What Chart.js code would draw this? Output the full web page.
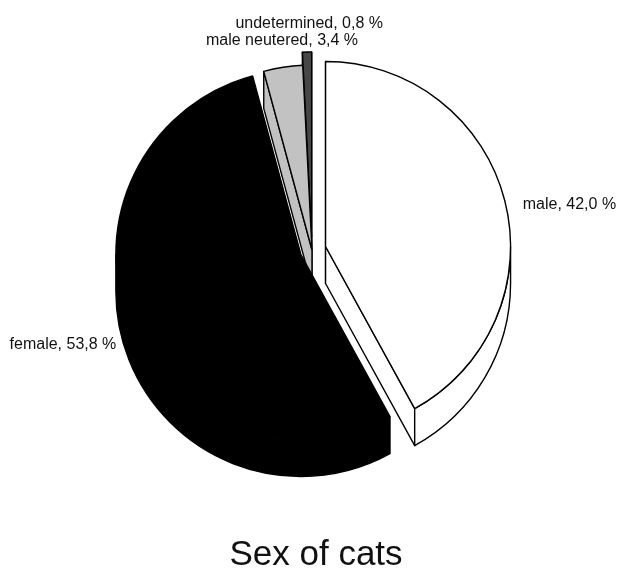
<!DOCTYPE html>
<html>
<head>
<meta charset="utf-8">
<title>Sex of cats</title>
<script src="https://cdn.jsdelivr.net/npm/chart.js@4.4.1/dist/chart.umd.min.js"></script>
<style>
  html, body { margin: 0; padding: 0; background: #ffffff; }
  #wrap { width: 618px; height: 568px; }
</style>
</head>
<body>
<div id="wrap"><canvas id="chart" width="618" height="568"></canvas></div>
<script>
// Share of each group, in percent, clockwise from 12 o'clock
const categories = ['male', 'female', 'male neutered', 'undetermined'];
const shares = [42.0, 53.8, 3.4, 0.8];
const chartTitle = 'Sex of cats';

// Styling
const sliceColors = ['#ffffff', '#000000', '#c2c2c2', '#464646'];
const explodeBy = [14, 12, 0, 13];   // how far each slice is pulled out
const DEPTH = 37;                    // thickness of the extruded pie
const RADIUS = 185;
const LINE = 1.4;
const FONT = '"Liberation Sans", Arial, Helvetica, sans-serif';

// Label anchor relative to the outer point at each slice's mid angle
const labelPlacement = [
  { dx: 18,  dy: 8.5, align: 'left'  },
  { dx: -13, dy: 25,  align: 'right' },
  { dx: 75,  dy: -22, align: 'right' },
  { dx: 76,  dy: -24, align: 'right' }
];

const fmt = v => v.toFixed(1).replace('.', ',') + ' %';

function sliceGeometry(chart) {
  const meta = chart.getDatasetMeta(0);
  return meta.data.map((arc, i) => {
    const p = arc.getProps(['x', 'y', 'startAngle', 'endAngle', 'outerRadius'], true);
    const mid = (p.startAngle + p.endAngle) / 2;
    const ex = explodeBy[i];
    return { arc, i, p, mid, ax: p.x + Math.cos(mid) * ex, ay: p.y + Math.sin(mid) * ex };
  });
}

// Side walls of one slice that face the viewer (extrusion goes straight down)
function drawSides(ctx, it) {
  const r = it.p.outerRadius, s = it.p.startAngle, e = it.p.endAngle;
  const ax = it.ax, ay = it.ay;
  const pt = (t, d) => [ax + r * Math.cos(t), ay + r * Math.sin(t) + d];
  ctx.save();
  ctx.fillStyle = sliceColors[it.i];
  ctx.strokeStyle = '#000000';
  ctx.lineWidth = LINE;
  ctx.lineJoin = 'round';
  const wall = t => {
    ctx.beginPath();
    ctx.moveTo(ax, ay);
    ctx.lineTo(...pt(t, 0));
    ctx.lineTo(...pt(t, DEPTH));
    ctx.lineTo(ax, ay + DEPTH);
    ctx.closePath();
    ctx.fill();
    ctx.stroke();
  };
  if (Math.cos(s) < 1e-6) wall(s);
  if (Math.cos(e) > -1e-6) wall(e);
  const a = Math.max(s, 0), b = Math.min(e, Math.PI);
  if (b > a) {
    ctx.beginPath();
    ctx.arc(ax, ay, r, a, b);
    ctx.lineTo(...pt(b, DEPTH));
    ctx.arc(ax, ay + DEPTH, r, b, a, true);
    ctx.closePath();
    ctx.fill();
    ctx.stroke();
  }
  ctx.restore();
}

const pie3d = {
  id: 'pie3d',
  beforeDatasetsDraw(chart) {
    const ctx = chart.ctx;
    const items = sliceGeometry(chart);
    // back to front
    items.sort((a, b) => Math.sin(a.mid) - Math.sin(b.mid));
    for (const it of items) {
      drawSides(ctx, it);
      ctx.save();
      ctx.translate(it.ax - it.p.x, it.ay - it.p.y);
      it.arc.draw(ctx);
      ctx.restore();
    }
    return false;
  },
  afterDraw(chart) {
    const ctx = chart.ctx;
    const items = sliceGeometry(chart);
    ctx.save();
    ctx.fillStyle = '#111111';
    ctx.font = '16px ' + FONT;
    ctx.textBaseline = 'alphabetic';
    for (const it of items) {
      const r = it.p.outerRadius;
      const mx = it.ax + Math.cos(it.mid) * r;
      const my = it.ay + Math.sin(it.mid) * r;
      const lp = labelPlacement[it.i];
      ctx.textAlign = lp.align;
      ctx.fillText(categories[it.i] + ', ' + fmt(shares[it.i]), mx + lp.dx, my + lp.dy);
    }
    ctx.font = '35px ' + FONT;
    ctx.textAlign = 'center';
    ctx.fillText(chartTitle, 316, 565);
    ctx.restore();
  }
};

new Chart(document.getElementById('chart'), {
  type: 'pie',
  data: {
    labels: categories,
    datasets: [{
      data: shares,
      backgroundColor: sliceColors,
      borderColor: '#000000',
      borderWidth: LINE,
      radius: RADIUS,
      offset: 0
    }]
  },
  options: {
    responsive: false,
    animation: false,
    devicePixelRatio: 1,
    layout: { padding: { left: 6, right: 0, top: 0, bottom: 68 } },
    plugins: {
      legend: { display: false },
      title: { display: false },
      tooltip: { enabled: false }
    },
    events: []
  },
  plugins: [pie3d]
});
</script>
</body>
</html>
